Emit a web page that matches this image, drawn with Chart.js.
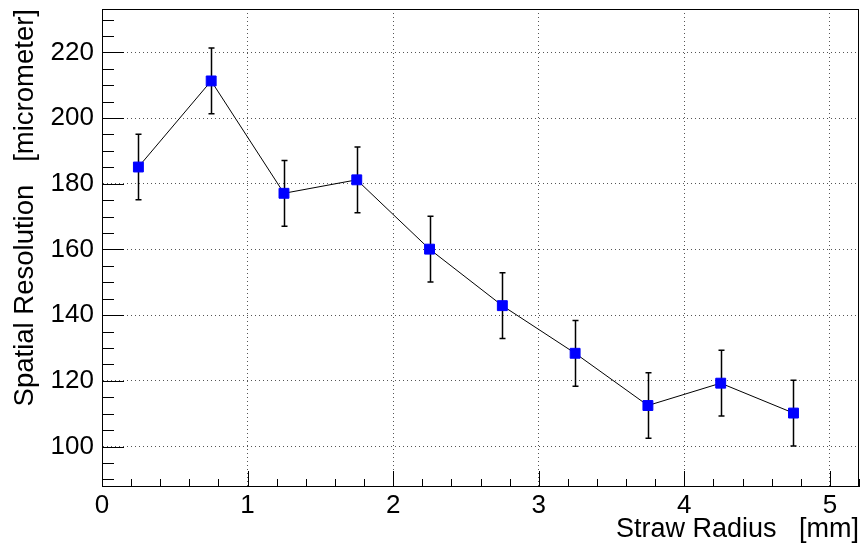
<!DOCTYPE html>
<html lang="en">
<head>
<meta charset="UTF-8">
<title>Spatial Resolution vs Straw Radius</title>
<script src="https://cdn.jsdelivr.net/npm/chart.js"></script>
<style>
  html, body { margin: 0; padding: 0; background: #fff; }
</style>
</head>
<body>
<canvas id="resChart" width="861" height="547"></canvas>
<script>
// measured resolution per straw radius bin
const strawRadius = [0.25, 0.75, 1.25, 1.75, 2.25, 2.75, 3.25, 3.75, 4.25, 4.75];
const resolution = [185.1, 211.3, 177.1, 181.2, 160.1, 142.9, 128.4, 112.5, 119.3, 110.2];
const resolutionErr = [10, 10, 10, 10, 10, 10, 10, 10, 10, 10];

const xTicks = [0, 1, 2, 3, 4, 5];
const yTicks = [100, 120, 140, 160, 180, 200, 220];

const FONT = "'Liberation Sans', Arial, Helvetica, sans-serif";

// vertical error bars with small caps, drawn under the markers
const errorBars = {
  id: 'errorBars',
  beforeDatasetsDraw(chart) {
    const ctx = chart.ctx;
    const xs = chart.scales.x, ys = chart.scales.y;
    chart.data.datasets.forEach(ds => {
      if (!ds.errors) return;
      ctx.save();
      ctx.strokeStyle = '#000';
      ctx.lineWidth = 1.5;
      ds.data.forEach((p, i) => {
        const px = Math.round(xs.getPixelForValue(p.x)) + 0.5;
        const top = ys.getPixelForValue(p.y + ds.errors[i]);
        const bot = ys.getPixelForValue(p.y - ds.errors[i]);
        ctx.beginPath();
        ctx.moveTo(px, top); ctx.lineTo(px, bot);
        ctx.moveTo(px - 3, top); ctx.lineTo(px + 3, top);
        ctx.moveTo(px - 3, bot); ctx.lineTo(px + 3, bot);
        ctx.stroke();
      });
      ctx.restore();
    });
  }
};

// closed frame plus inward major/minor tick marks
const frameTicks = {
  id: 'frameTicks',
  afterDraw(chart) {
    const ctx = chart.ctx;
    const a = chart.chartArea;
    const xs = chart.scales.x, ys = chart.scales.y;
    ctx.save();
    ctx.strokeStyle = '#000';
    ctx.lineWidth = 1;
    ctx.strokeRect(Math.round(a.left) + 0.5, Math.round(a.top) + 0.5,
      Math.round(a.right - a.left) - 1, Math.round(a.bottom - a.top));

    ctx.beginPath();
    // x axis: major every 1, minor every 0.2
    for (let r = Math.ceil(xs.min * 5); r <= Math.floor(xs.max * 5 + 1e-6); r++) {
      const px = Math.round(xs.getPixelForValue(r / 5)) + 0.5;
      const len = (r % 5 === 0) ? 15 : 7;
      ctx.moveTo(px, a.bottom); ctx.lineTo(px, a.bottom - len);
    }
    // y axis: major every 20, minor every 5
    for (let v = Math.ceil(ys.min / 5) * 5; v <= ys.max; v += 5) {
      const py = Math.round(ys.getPixelForValue(v)) + 0.5;
      const len = (v % 20 === 0) ? 22 : 12;
      ctx.moveTo(a.left, py); ctx.lineTo(a.left + len, py);
    }
    ctx.stroke();
    ctx.restore();
  }
};

new Chart(document.getElementById('resChart'), {
  type: 'scatter',
  data: {
    datasets: [{
      data: strawRadius.map((r, i) => ({ x: r, y: resolution[i] })),
      errors: resolutionErr,
      showLine: true,
      borderColor: '#000',
      borderWidth: 1,
      tension: 0,
      pointStyle: 'rect',
      pointRadius: 7,
      pointBackgroundColor: '#0000ff',
      pointBorderColor: '#0000ff',
      pointBorderWidth: 1,
      pointHoverRadius: 7
    }]
  },
  options: {
    responsive: false,
    animation: false,
    devicePixelRatio: 1,
    layout: { autoPadding: false, padding: { top: 9, right: 2, left: 0, bottom: 0 } },
    plugins: { legend: { display: false }, tooltip: { enabled: false } },
    scales: {
      x: {
        type: 'linear',
        min: 0,
        max: 5.2,
        afterBuildTicks: s => { s.ticks = xTicks.map(v => ({ value: v })); },
        afterFit: s => { s.height = 61; s.paddingLeft = 0; s.paddingRight = 0; },
        grid: { color: '#555', lineWidth: 1, drawTicks: false },
        border: { display: true, color: '#000', width: 1, dash: [1, 3] },
        ticks: { color: '#000', font: { family: FONT, size: 26 }, padding: 4, maxRotation: 0 },
        title: {
          display: true,
          text: 'Straw Radius\u00a0\u00a0\u00a0[mm]',
          align: 'end',
          color: '#000',
          font: { family: FONT, size: 27 },
          padding: { top: 0, bottom: 1 }
        }
      },
      y: {
        type: 'linear',
        min: 88,
        max: 233.2,
        afterBuildTicks: s => { s.ticks = yTicks.map(v => ({ value: v })); },
        afterFit: s => { s.width = 102; s.paddingTop = 0; s.paddingBottom = 0; },
        grid: { color: '#555', lineWidth: 1, drawTicks: false },
        border: { display: true, color: '#000', width: 1, dash: [1, 3] },
        ticks: { color: '#000', font: { family: FONT, size: 26 }, padding: 8 },
        title: {
          display: true,
          text: 'Spatial Resolution\u00a0\u00a0\u00a0[micrometer]',
          align: 'end',
          color: '#000',
          font: { family: FONT, size: 27.5 },
          padding: { top: 9, bottom: 0 }
        }
      }
    }
  },
  plugins: [errorBars, frameTicks]
});
</script>
</body>
</html>
